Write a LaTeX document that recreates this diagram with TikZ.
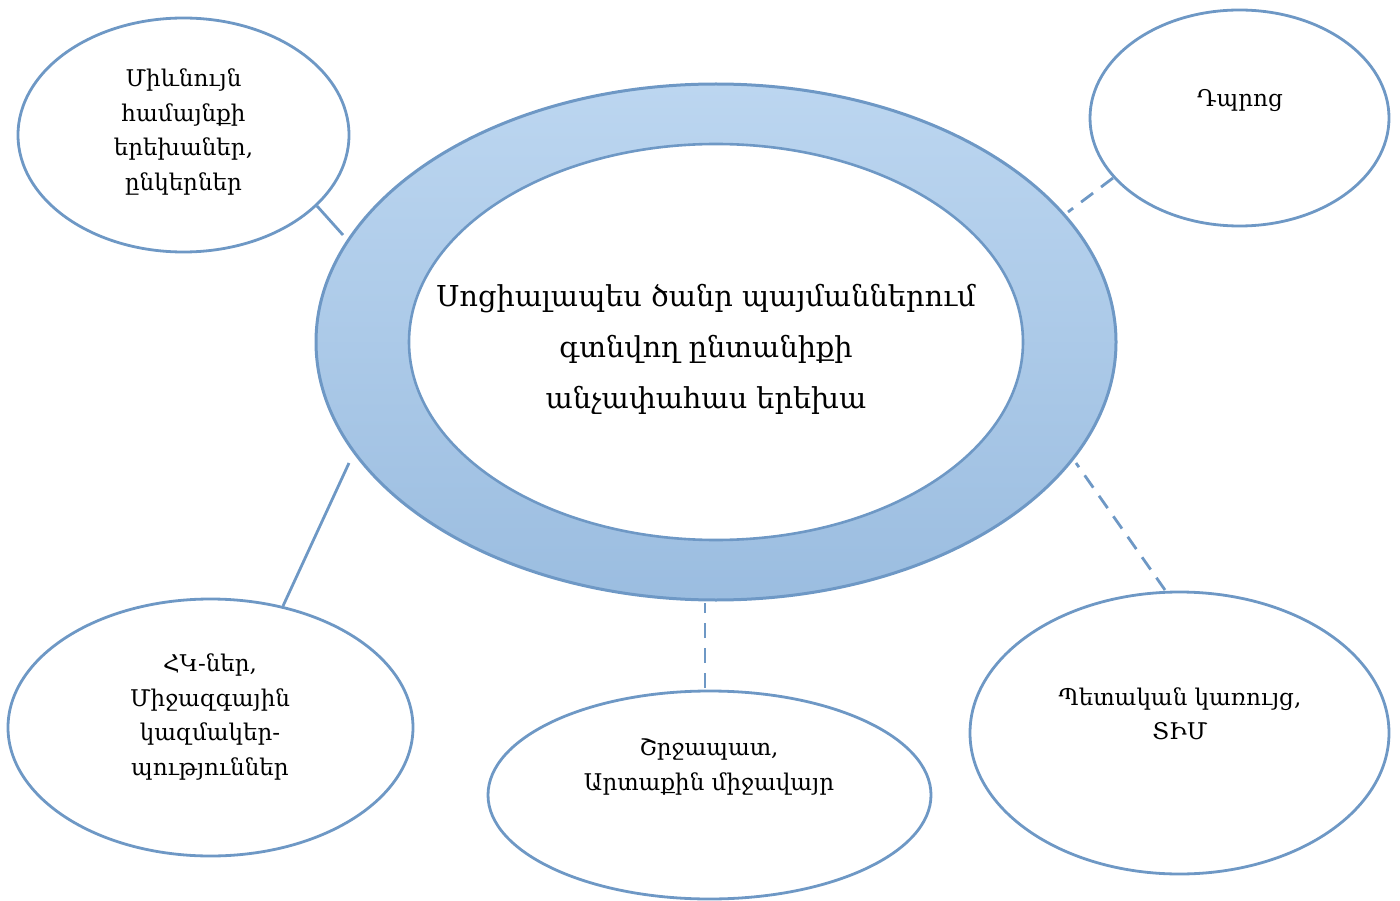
\documentclass[tikz,border=0pt]{standalone}
\usepackage{fontspec}
\setmainfont{DejaVu Serif}
\usetikzlibrary{shapes.geometric}
\definecolor{edge}{HTML}{6E98C5}
\definecolor{ringtop}{HTML}{BCD6F0}
\definecolor{ringbot}{HTML}{9BBDE0}
\begin{document}
\begin{tikzpicture}[x=1pt,y=-1pt,
  oval/.style={ellipse, draw=edge, line width=2.8pt, fill=white, inner sep=0pt},
  ringstyle/.style={ellipse, draw=edge, line width=3pt, inner sep=0pt, top color=ringtop, bottom color=ringbot},
  lbl/.style={align=center, inner sep=0pt, font=\fontsize{23}{34.5}\selectfont},
  bigl/.style={align=center, inner sep=0pt, font=\fontsize{28.8}{51}\selectfont},
  link/.style={draw=edge, line width=2.8pt},
  dashlink/.style={link, dash pattern=on 15pt off 10pt}]
\useasboundingbox (0,0) rectangle (1400,901);
% central ring
\node[ringstyle, minimum width=800pt, minimum height=516pt] (ring) at (716,342) {};
\node[oval, line width=2.6pt, minimum width=614pt, minimum height=396pt] (core) at (716,342) {};
\node[bigl] (coretext) at (706,349) {Սոցիալապես ծանր պայմաններում\\գտնվող ընտանիքի\\անչափահաս երեխա};
% satellites
\node[oval, minimum width=331pt, minimum height=234pt] (tl) at (183.5,135) {};
\node[lbl] (tltext) at (183.5,132) {Միևնույն\\համայնքի\\երեխաներ,\\ընկերներ};
\node[oval, minimum width=299pt, minimum height=216pt] (tr) at (1239.5,118) {};
\node[lbl] (trtext) at (1240,101) {Դպրոց};
\node[oval, minimum width=405pt, minimum height=257pt] (bl) at (210.5,727.5) {};
\node[lbl] (bltext) at (210,717) {ՀԿ-ներ,\\Միջազգային\\կազմակեր-\\պություններ};
\node[oval, minimum width=443pt, minimum height=208pt] (bm) at (709.5,795) {};
\node[lbl] (bmtext) at (709,767) {Շրջապատ,\\Արտաքին միջավայր};
\node[oval, minimum width=419pt, minimum height=282pt] (br) at (1179.5,733) {};
\node[lbl] (brtext) at (1180,714) {Պետական կառույց,\\ՏԻՄ};
% connector end points
\coordinate (tlA) at (317,206);  \coordinate (tlB) at (343,235);
\coordinate (trA) at (1113,178); \coordinate (trB) at (1068,212);
\coordinate (blA) at (283,606);  \coordinate (blB) at (349,463);
\coordinate (bmA) at (705,688);  \coordinate (bmB) at (705,603);
\coordinate (brA) at (1165,590); \coordinate (brB) at (1076,463);
\draw[link] (tlA) -- (tlB);
\draw[dashlink] (trA) -- (trB);
\draw[link] (blA) -- (blB);
\draw[dashlink] (bmA) -- (bmB);
\draw[dashlink] (brA) -- (brB);
\end{tikzpicture}
\end{document}
